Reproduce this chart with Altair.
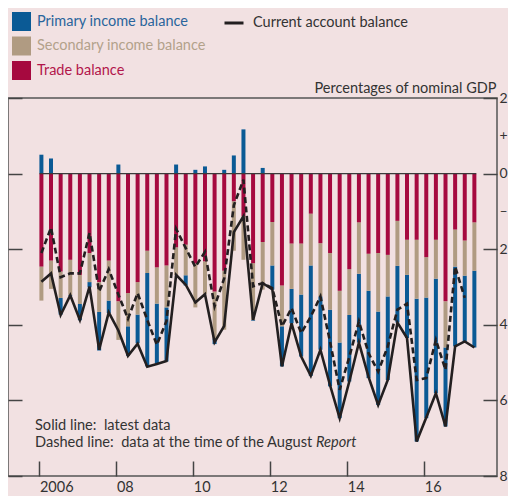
import altair as alt
import pandas as pd

# ---------------- data ----------------
quarters = [f"{y} Q{q}" for y in range(2006, 2018) for q in (1, 2, 3, 4)][:46]

trade_balance = [-2.46, -2.30, -2.59, -2.28, -2.68, -2.10, -2.87, -2.30, -3.38, -3.16,
                 -2.87, -2.04, -2.48, -2.43, -1.95, -1.88, -2.38, -2.32, -3.12, -2.57,
                 -0.73, -1.13, -2.37, -1.81, -1.28, -2.96, -1.85, -1.85, -1.06, -1.84,
                 -2.10, -3.10, -2.53, -1.29, -2.12, -2.10, -2.15, -1.25, -1.75, -1.75,
                 -2.21, -1.75, -3.38, -1.48, -1.77, -1.29]
secondary_income = [-0.90, -0.75, -0.70, -0.93, -0.77, -0.77, -0.79, -1.06, -1.02, -0.88,
                    -0.86, -0.59, -0.96, -1.11, -0.73, -0.81, -1.16, -0.86, -1.24, -1.56,
                    -1.31, -1.15, -1.50, -1.26, -1.15, -1.08, -1.20, -1.35, -1.37, -1.41,
                    -1.50, -1.37, -1.21, -1.36, -0.98, -1.55, -1.10, -1.19, -0.93, -1.56,
                    -1.07, -1.03, -1.22, -0.98, -0.93, -1.28]
primary_income = [0.50, 0.40, -0.44, -0.02, -0.43, -0.14, -1.02, -0.33, 0.24, -0.78,
                  -0.76, -2.47, -1.58, -1.43, 0.24, -0.27, 0.10, 0.19, -0.15, 0.10,
                  0.48, 1.17, -0.02, 0.15, -0.64, -1.06, -0.91, -1.64, -2.92, -1.41,
                  -2.03, -2.00, -1.76, -1.82, -2.31, -2.47, -2.21, -1.50, -1.67, -3.78,
                  -3.19, -3.03, -2.09, -2.11, -1.74, -2.03]
current_latest = [-2.86, -2.64, -3.74, -3.22, -3.87, -2.99, -4.66, -3.67, -4.15, -4.82,
                  -4.50, -5.11, -5.04, -4.96, -2.68, -2.94, -3.41, -3.19, -4.46, -4.03,
                  -1.55, -1.13, -3.87, -2.90, -3.06, -5.10, -3.96, -4.84, -5.35, -4.66,
                  -5.60, -6.47, -5.50, -4.47, -5.38, -6.12, -5.46, -3.94, -4.35, -7.09,
                  -6.45, -5.81, -6.69, -4.57, -4.44, -4.60]
current_august = [-2.10, -1.43, -2.74, -2.64, -2.64, -1.57, -3.12, -2.53, -3.20, -3.84,
                  -3.16, -3.87, -4.53, -3.90, -1.46, -1.97, -2.47, -2.07, -3.51, -2.77,
                  -0.84, -0.16, -2.98, -2.90, -3.03, -4.04, -3.56, -4.22, -3.78, -3.25,
                  -4.45, -5.72, -4.85, -3.91, -4.75, -5.24, -4.57, -3.60, -3.44, -5.46,
                  -5.41, -4.40, -5.19, -2.46, -3.29]

series_names = ["Primary income balance", "Secondary income balance", "Trade balance"]
series_colors = ["#0b5a95", "#b09b82", "#a6093f"]
series_label_colors = ["#2a659c", "#b3a18b", "#b2164b"]
line_name = "Current account balance"

x_tick_values = [2006, 2008, 2010, 2012, 2014, 2016]
x_tick_labels = ["2006", "08", "10", "12", "14", "16"]
y_tick_values = [2, 1, 0, -1, -2, -4, -6, -8]
y_tick_labels = ["2", "+", "0", "\u2013", "2", "4", "6", "8"]
y_major_ticks = [2, 0, -2, -4, -6, -8]

note_solid = "Solid line:\u00a0 latest data"
note_dashed = "Dashed line:\u00a0 data at the time of the August"
note_italic = "Report"
units_title = "Percentages of nominal GDP"

# ---------------- styling ----------------
FONT = "Lato"
BG = "#f2e1e2"
INK = "#333333"
LINE = "#231f20"
AXC = "#444444"
PAGE_CSS = "html { overflow: hidden; } html, body { background: #f2e1e2; }"

t = [int(s[:4]) + (int(s[-1]) - 1) / 4 for s in quarters]

bars = pd.DataFrame({
    "t": t * 3,
    "series": [series_names[0]] * 46 + [series_names[1]] * 46 + [series_names[2]] * 46,
    "value": primary_income + secondary_income + trade_balance,
    "ord": [2] * 46 + [1] * 46 + [0] * 46,
})
latest = pd.DataFrame({"t": t, "value": current_latest, "name": [line_name] * 46})
august = pd.DataFrame({"t": t[:len(current_august)], "value": current_august})
zero = pd.DataFrame({"x1": [min(t) - 0.05], "x2": [max(t) + 0.05], "y": [0.0]})


def label_expr(values, labels):
    expr = "''"
    for v, l in reversed(list(zip(values, labels))):
        expr = f"datum.value == {v} ? '{l}' : {expr}"
    return expr


def color_expr(names, colors):
    expr = f"'{INK}'"
    for n, c in reversed(list(zip(names, colors))):
        expr = f"datum.label == '{n}' ? '{c}' : {expr}"
    return expr


xscale = alt.Scale(domain=[2005.262, 2017.708], nice=False, zero=False)
yscale = alt.Scale(domain=[-8, 2], nice=False, zero=False)

x_axis = alt.Axis(
    values=x_tick_values, labelExpr=label_expr(x_tick_values, x_tick_labels),
    orient="bottom", offset=-15, tickSize=15, tickWidth=1.5, tickColor=AXC,
    tickOffset=-2, domain=False, grid=False, labelAlign="left", labelBaseline="top",
    labelPadding=4, labelFont=FONT, labelFontSize=14.5, labelColor=INK,
    labelFlush=False, labelOverlap=False, title=None,
)
x_enc = alt.X("t:Q", scale=xscale, axis=x_axis)

right_axis = alt.Axis(
    orient="right", values=y_tick_values, labelExpr=label_expr(y_tick_values, y_tick_labels),
    offset=-14, tickSize=14, tickWidth=1.5, tickColor=AXC,
    tickOpacity={"condition": {"test": "abs(datum.value) == 1", "value": 0}, "value": 1},
    domain=False, grid=False, labelPadding=2, labelFont=FONT, labelFontSize=14,
    labelColor=INK, labelFlush=False, labelOverlap=False,
    title=units_title, titleAngle=0, titleAlign="right", titleBaseline="alphabetic",
    titleX=13, titleY=-6, titleFont=FONT, titleFontSize=14.5, titleFontWeight="normal",
    titleColor=INK,
)
left_axis = alt.Axis(
    orient="left", values=y_major_ticks, labels=False, offset=-14, tickSize=14,
    tickWidth=1.5, tickColor=AXC, domain=False, grid=False, title=None,
)

bar_layer = alt.Chart(bars).mark_bar(size=4).encode(
    x=x_enc,
    y=alt.Y("value:Q", stack="zero", scale=yscale, axis=right_axis),
    fill=alt.Fill(
        "series:N",
        scale=alt.Scale(domain=series_names, range=series_colors),
        legend=alt.Legend(
            title=None, orient="none", legendX=4, legendY=-86, direction="vertical",
            symbolType="square", symbolSize=361, symbolStrokeWidth=0, symbolOpacity=1,
            labelFont=FONT, labelFontSize=14.5,
            labelColor={"expr": color_expr(series_names, series_label_colors)},
            labelOffset=6, labelLimit=400, rowPadding=5.5, padding=0,
        ),
    ),
    order=alt.Order("ord:Q"),
)

zero_layer = alt.Chart(zero).mark_rule(color="#3a3a3a", strokeWidth=1.3).encode(
    x=alt.X("x1:Q", scale=xscale, axis=x_axis), x2="x2:Q",
    y=alt.Y("y:Q", scale=yscale, axis=None),
)

august_layer = alt.Chart(august).mark_line(
    strokeWidth=2.6, strokeDash=[6, 3.5], color=LINE, strokeJoin="miter"
).encode(x=x_enc, y=alt.Y("value:Q", scale=yscale, axis=None))

latest_layer = alt.Chart(latest).mark_line(strokeWidth=2.6, strokeJoin="miter").encode(
    x=x_enc,
    y=alt.Y("value:Q", scale=yscale, axis=left_axis),
    stroke=alt.Stroke(
        "name:N",
        scale=alt.Scale(domain=[line_name], range=[LINE]),
        legend=alt.Legend(
            title=None, orient="none", legendX=215, legendY=-86, symbolType="stroke",
            symbolSize=361, symbolStrokeWidth=3, labelFont=FONT, labelFontSize=14.5,
            labelColor=INK, labelOffset=8, labelLimit=400, padding=0,
        ),
    ),
)

note1 = alt.Chart(pd.DataFrame({"label": [note_solid]})).mark_text(
    align="left", baseline="alphabetic", font=FONT, fontSize=14.6, color=INK
).encode(text="label:N", x=alt.value(27), y=alt.value(332))
note2 = alt.Chart(pd.DataFrame({"label": [note_dashed]})).mark_text(
    align="left", baseline="alphabetic", font=FONT, fontSize=14.6, color=INK
).encode(text="label:N", x=alt.value(27), y=alt.value(349))
note3 = alt.Chart(pd.DataFrame({"label": [note_italic]})).mark_text(
    align="left", baseline="alphabetic", font=FONT, fontSize=14.6, fontStyle="italic", color=INK
).encode(text="label:N", x=alt.value(308), y=alt.value(349))

chart = alt.layer(
    bar_layer, zero_layer, august_layer, latest_layer, note1, note2, note3
).resolve_scale(y="independent").properties(
    width=489, height=378,
    autosize=alt.AutoSizeParams(type="none"),
    padding={"left": 0, "top": 90, "right": 11, "bottom": 20},
    background=BG,
    usermeta={"embedOptions": {"defaultStyle": PAGE_CSS}},
).configure_view(stroke="#555555", strokeWidth=1.5)

chart.save("out.html", embed_options={"renderer": "svg", "actions": False})
